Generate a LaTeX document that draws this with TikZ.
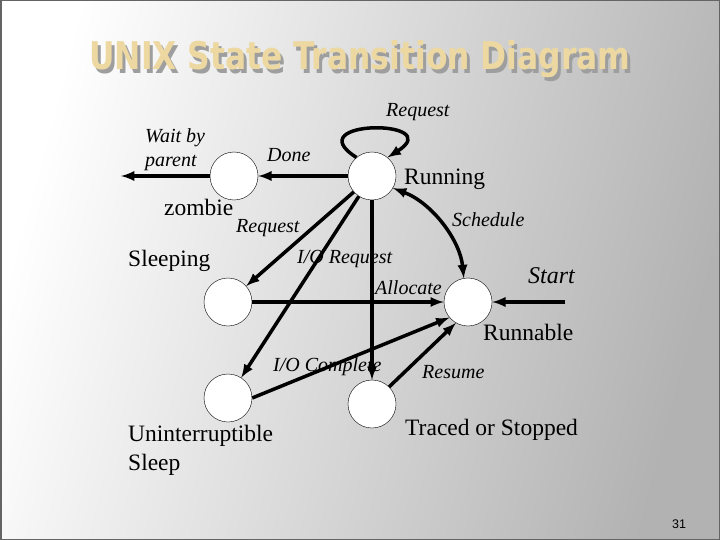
\documentclass[tikz,border=0pt]{standalone}
\usepackage{fontspec}
\setmainfont{Liberation Serif}
\newfontfamily\titlefont{DejaVu Sans}
\newfontfamily\numfont{Liberation Sans}
\usepackage{graphicx}
\usetikzlibrary{arrows}
\definecolor{bggray}{RGB}{178,178,178}
\definecolor{ttlyellow}{RGB}{236,216,160}
\definecolor{ttlshadow}{RGB}{158,158,158}
\definecolor{framegray}{RGB}{100,100,100}

\begin{document}
\begin{tikzpicture}[x=1pt,y=-1pt,
    state/.style={circle,draw,thin,fill=white,minimum size=48pt,inner sep=0pt},
    edge/.style={line width=3.5pt,-latex},
    lab/.style={anchor=base west,inner sep=0pt,font=\itshape\fontsize{20}{24}\selectfont},
    stname/.style={anchor=base west,inner sep=0pt,align=left,font=\fontsize{23.5}{29}\selectfont}]
  % Background
  \useasboundingbox (0,0) rectangle (720,540);
  \shade[left color=white,right color=bggray,shading angle=75] (0,0) rectangle (720,540);
  \draw[framegray,line width=1.5pt] (0.75,0.75) rectangle (719.25,539.25);
  % Title
  \node[anchor=base,inner sep=0pt,text=ttlshadow] (ttlsh) at (363,74)
    {\titlefont\bfseries\resizebox{541pt}{29pt}{UNIX State Transition Diagram}};
  \node[anchor=base,inner sep=0pt,text=ttlyellow] (title) at (360,70)
    {\titlefont\bfseries\resizebox{541pt}{29pt}{UNIX State Transition Diagram}};
  % States
  \node[state] (run) at (372,176) {};
  \node[state] (zom) at (234,176) {};
  \node[state] (slp) at (228,302) {};
  \node[state] (rnb) at (468,302) {};
  \node[state] (unint) at (228,398) {};
  \node[state] (trc) at (372,404) {};
  \coordinate (exit) at (121,176);
  \coordinate (start) at (565,302);
  % Transitions
  \draw[edge] (run) -- (zom);
  \draw[edge] (zom) -- (exit);
  \draw[edge] (run.130) .. controls (296,119) and (448,119) .. (run.50);
  \draw[edge] (run) -- (slp);
  \draw[edge] (run) -- (unint);
  \draw[edge] (run) -- (trc);
  \draw[edge] (slp) -- (rnb);
  \draw[edge] (unint.east) -- (rnb.220);
  \draw[edge] (trc.45) -- (rnb.240);
  \draw[edge,latex-latex] (run.-30) .. controls (432,203) and (460,240) .. (rnb.100);
  \draw[edge] (start) -- (rnb);
  % Labels
  \node[lab] (lreq) at (386,117) {Request};
  \node[lab,align=left] (lwait) at (145,166.5) {Wait by\\parent};
  \node[lab] (ldone) at (267,161.5) {Done};
  \node[lab] (lreq2) at (236,233) {Request};
  \node[lab] (lio) at (297,263.5) {I/O Request};
  \node[lab] (lsched) at (452,226.5) {Schedule};
  \node[lab] (lalloc) at (375,294) {Allocate};
  \node[lab,font=\itshape\fontsize{24}{28}\selectfont] (lstart) at (528,283) {Start};
  \node[lab] (lioc) at (273,371) {I/O Complete};
  \node[lab] (lres) at (422,378) {Resume};
  \node[stname] (nrun) at (404,185) {Running};
  \node[stname] (nzom) at (164,215) {zombie};
  \node[stname] (nslp) at (128,266.5) {Sleeping};
  \node[stname] (nrnb) at (483,340) {Runnable};
  \node[stname] (nunint) at (128,470.5) {Uninterruptible\\Sleep};
  \node[stname] (ntrc) at (405,435) {Traced or Stopped};
  \node[anchor=base west,inner sep=0pt,font=\numfont\fontsize{12.5}{14}\selectfont] (pnum) at (672,528) {31};
\end{tikzpicture}
\end{document}
